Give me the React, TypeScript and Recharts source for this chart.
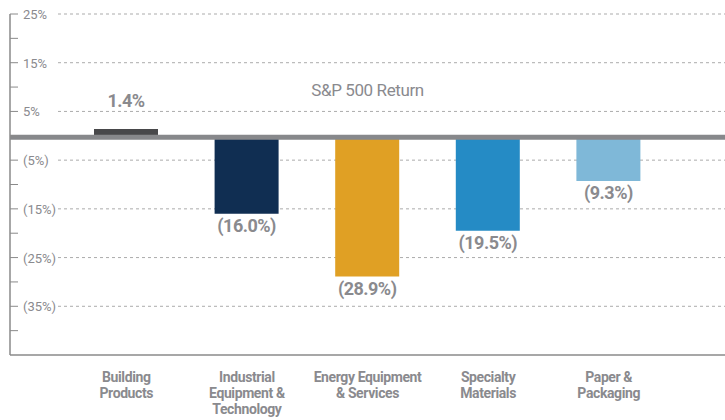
import { BarChart, Bar, XAxis, YAxis, CartesianGrid, ReferenceLine, Cell, LabelList } from "recharts";

const categories = [
    "Building\nProducts",
    "Industrial\nEquipment &\nTechnology",
    "Energy Equipment\n& Services",
    "Specialty\nMaterials",
    "Paper &\nPackaging",
];
const returns = [1.4, -16.0, -28.9, -19.5, -9.3];
const barColors = ["#48484a", "#102e52", "#e0a024", "#258bc5", "#7fb8d8"];
const majorTicks = [25, 15, 5, -5, -15, -25, -35];
const allTicks = [25, 20, 15, 10, 5, 0, -5, -10, -15, -20, -25, -30, -35, -40];
const spReturn = -0.3;

const GRAY = "#8a8a8e";
const FONT = "Roboto, 'Noto Sans', sans-serif";
const AXIS_X = 10;

const data = categories.map((name, i) => ({ name, value: returns[i] }));

function pct(v: number, digits = 0) {
    const s = Math.abs(v).toFixed(digits) + "%";
    return v < 0 ? `(${s})` : s;
}

// y tick: short inward tick mark, label only on the odd tens
function YTick({ y, payload }: any) {
    const v = payload.value;
    return (
        <g>
            <line x1={AXIS_X} x2={AXIS_X + 8} y1={y} y2={y} stroke="#8a8a8a" />
            {majorTicks.includes(v) && (
                <text x={AXIS_X + 13} y={y} dy={5} fontSize={13} fill={GRAY} fontFamily={FONT} textAnchor="start">
                    {pct(v)}
                </text>
            )}
        </g>
    );
}

function XTick({ x, y, payload }: any) {
    const lines = String(payload.value).split("\n");
    return (
        <text x={x} y={y} textAnchor="middle" fontSize={14} fontWeight={700} fill={GRAY} fontFamily={FONT} letterSpacing={-0.4}>
            {lines.map((l, i) => (
                <tspan key={i} x={x} dy={i === 0 ? 19 : 16}>
                    {l}
                </tspan>
            ))}
        </text>
    );
}

function ValueLabel({ x, y, width, height, value }: any) {
    const cx = x + width / 2;
    const top = Math.min(y, y + height);
    const bottom = Math.max(y, y + height);
    const ty = value >= 0 ? top - 22 : bottom + 18;
    return (
        <text x={cx} y={ty} textAnchor="middle" fontSize={18} fontWeight={700} fill={GRAY} fontFamily={FONT} letterSpacing={-0.5}>
            {pct(value, 1)}
        </text>
    );
}

function SpLabel({ viewBox }: any) {
    const cx = viewBox.x + viewBox.width / 2;
    return (
        <text x={cx} y={viewBox.y - 41} textAnchor="middle" fontSize={17} fill={GRAY} fontFamily={FONT} letterSpacing={-0.4}>
            S&amp;P 500 Return
        </text>
    );
}

export default function App() {
    return (
        <div>
            <style>{"body{margin:0}"}</style>
            <BarChart width={725} height={420} data={data} margin={{ top: 14, right: 0, left: AXIS_X - 1, bottom: 0 }}>
                <CartesianGrid
                    vertical={false}
                    horizontalValues={majorTicks}
                    horizontal={(p: any) => (
                        <line key={`g-${p.y1}`} x1={p.x1 + 48} x2={p.x2} y1={p.y1} y2={p.y2} stroke="#ababab" strokeDasharray="3 3" />
                    )}
                />
                <XAxis
                    dataKey="name"
                    height={65}
                    padding={{ left: 56, right: 56 }}
                    axisLine={{ stroke: "#8a8a8a", strokeWidth: 1.5 }}
                    tickLine={false}
                    interval={0}
                    tick={<XTick />}
                />
                <YAxis
                    type="number"
                    width={1}
                    domain={[-45, 25]}
                    ticks={allTicks}
                    interval={0}
                    axisLine={{ stroke: "#8a8a8a", strokeWidth: 1.5 }}
                    tickLine={false}
                    tick={<YTick />}
                />
                <Bar dataKey="value" barSize={64} isAnimationActive={false}>
                    {data.map((d, i) => (
                        <Cell key={d.name} fill={barColors[i]} />
                    ))}
                    <LabelList dataKey="value" content={<ValueLabel />} />
                </Bar>
                <ReferenceLine y={spReturn} stroke="#87888b" strokeWidth={5} label={<SpLabel />} />
            </BarChart>
        </div>
    );
}
